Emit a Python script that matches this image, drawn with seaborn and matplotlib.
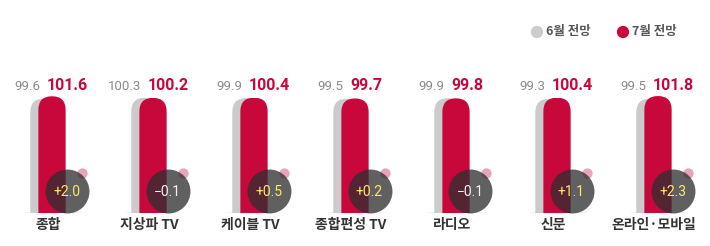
import matplotlib
matplotlib.use("Agg")
import matplotlib.pyplot as plt
import seaborn as sns
import pandas as pd
import numpy as np
from matplotlib.patches import FancyBboxPatch
from matplotlib.transforms import blended_transform_factory

categories = ["종합", "지상파 TV", "케이블 TV", "종합편성 TV", "라디오", "신문", "온라인·모바일"]
june = [99.6, 100.3, 99.9, 99.5, 99.9, 99.3, 99.5]
july = [101.6, 100.2, 100.4, 99.7, 99.8, 100.4, 101.8]
series_names = ["6월 전망", "7월 전망"]

RED = "#C8073B"
GRAY = "#CBCBCB"
KR = ["Noto Sans CJK KR", "DejaVu Sans"]
NUM = ["Roboto", "DejaVu Sans"]

sns.set_theme(style="white")
plt.rcParams["font.family"] = KR

W, H = 710, 246
fig = plt.figure(figsize=(W / 100, H / 100), dpi=100)
base_px = 213
top_px = 85
ax = fig.add_axes([0, (H - base_px) / H, 1, (base_px - top_px) / H])

n = len(categories)
idx = np.arange(n)
df = pd.DataFrame({"pos": idx, "cat": categories, "june": june, "july": july})
off = 0.08
df["pos_g"] = df["pos"] - off

sns.barplot(data=df, x="pos_g", y="june", native_scale=True, width=0.27,
            color=GRAY, saturation=1, ax=ax, zorder=2)
sns.barplot(data=df, x="pos", y="july", native_scale=True, width=0.27,
            color=RED, saturation=1, ax=ax, zorder=3)

ax.set_xlim(-52 / 101, (W - 52) / 101)
ax.set_ylim(0, 111.4)
ax.axis("off")

# round the bar tops with a clip path
fig.canvas.draw()
p0 = ax.transData.transform((0, 0))
p1 = ax.transData.transform((1, 1))
pxx, pxy = p1[0] - p0[0], p1[1] - p0[1]
aspect = pxx / pxy
for bar in ax.patches:
    x, w, h = bar.get_x(), bar.get_width(), bar.get_height()
    clip = FancyBboxPatch((x, -30), w, h + 30,
                          boxstyle=f"round,pad=0,rounding_size={w / 2}",
                          mutation_aspect=aspect, transform=ax.transData,
                          facecolor="none", edgecolor="none")
    bar.set_clip_path(clip)
    bar.set_edgecolor("none")

figy = blended_transform_factory(ax.transData, fig.transFigure)
def fy(px):
    return 1 - px / H

# baselines
for i in idx:
    ax.plot([i - 28 / pxx, i + 30 / pxx], [0, 0], color="#A8A8A8", lw=0.9,
            zorder=1, solid_capstyle="butt")

# value labels
for i in idx:
    ax.text(i - 12 / pxx, fy(86), f"{june[i]:.1f}", transform=figy,
            ha="right", va="center", fontsize=9.5, color="#8A8A8A",
            family=NUM)
    ax.text(i - 5 / pxx, fy(86), f"{july[i]:.1f}", transform=figy,
            ha="left", va="center", fontsize=11.5, color=RED,
            fontweight="bold", family=NUM)

# difference circles
diffs = [round(b - a, 1) for a, b in zip(june, july)]
ax.scatter(idx + 30 / pxx, [fy(173)] * n, s=55, color="#E8A4B8",
           transform=figy, zorder=4, linewidths=0)
ax.scatter(idx + 14.5 / pxx, [fy(191)] * n, s=1000, color="#2E2E2E",
           alpha=0.76, transform=figy, zorder=5, linewidths=0)
for i, d in enumerate(diffs):
    txt = f"+{d:.1f}" if d > 0 else f"−{abs(d):.1f}"
    col = "#FFE76A" if d > 0 else "#F2F2F2"
    ax.text(i + 14.5 / pxx, fy(192), txt, transform=figy, ha="center",
            va="center", fontsize=10, color=col, family=NUM, zorder=6)

# category labels
for i, c in enumerate(categories):
    ax.text(i - 4 / pxx, fy(225), c, transform=figy, ha="center",
            va="center", fontsize=10, color="#333333", fontweight="bold",
            family=KR)

# legend
lg = fig.add_axes([0, 0, 1, 1], facecolor="none")
lg.set_xlim(0, W)
lg.set_ylim(H, 0)
lg.axis("off")
lg.scatter([537, 623], [32, 32], s=78, color=[GRAY, RED], linewidths=0)
lg.text(546, 32, series_names[0], ha="left", va="center", fontsize=9,
        color="#555555", fontweight="bold", family=KR)
lg.text(632, 32, series_names[1], ha="left", va="center", fontsize=9,
        color="#555555", fontweight="bold", family=KR)

fig.savefig("out.png", dpi=100, facecolor="white")
